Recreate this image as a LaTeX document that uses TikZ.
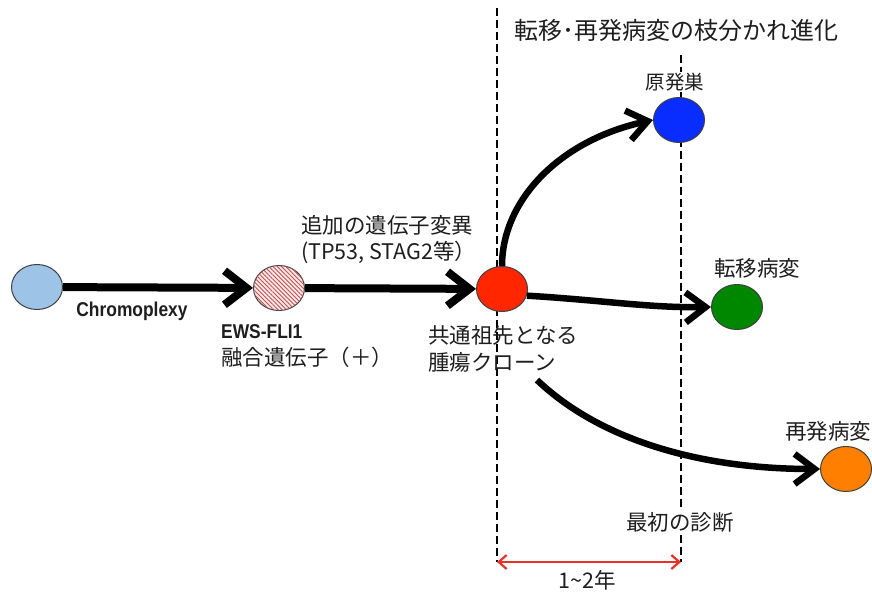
\documentclass[tikz,border=0pt]{standalone}
\usepackage{fontspec}
\setmainfont{Noto Sans CJK JP}
\newfontfamily\condfont[FakeStretch=0.87]{Liberation Sans}
\usetikzlibrary{shapes.geometric,arrows.meta,patterns.meta}
\definecolor{lblue}{RGB}{157,195,230}
\definecolor{pinkbg}{RGB}{252,232,232}
\definecolor{hatchred}{RGB}{190,80,80}
\definecolor{tumred}{RGB}{255,38,0}
\definecolor{primblue}{RGB}{10,45,255}
\definecolor{metgreen}{RGB}{0,135,0}
\definecolor{recorange}{RGB}{255,128,0}
\definecolor{spanred}{RGB}{230,50,40}
\definecolor{txt}{RGB}{30,30,30}
\begin{document}
\begin{tikzpicture}[x=1pt,y=-1pt,
  blob/.style={ellipse,draw=black!75,line width=1pt,minimum width=51pt,minimum height=45pt,inner sep=0pt},
  lab/.style={font=\fontsize{21.5}{27}\selectfont,text=txt,inner sep=1pt},
  smalllab/.style={font=\fontsize{19.5}{24}\selectfont,text=txt,inner sep=1pt},
  titlelab/.style={font=\fontsize{24}{28}\selectfont,text=txt,inner sep=2pt},
  boldlab/.style={font=\condfont\bfseries\fontsize{20}{24}\selectfont,text=txt,inner sep=1pt},
  vline/.style={line width=2.8pt,dash pattern=on 8pt off 4pt},
  bigarrow/.style={line width=8pt,-{Straight Barb[length=22pt,width=34pt]}},
  curvarrow/.style={line width=6.5pt,-{Straight Barb[length=20pt,width=30pt]}},
  spanarrow/.style={line width=2.2pt,draw=spanred,{Straight Barb[length=8pt,width=14pt]}-{Straight Barb[length=8pt,width=14pt]}}
]
\useasboundingbox (0,0) rectangle (872,596);
\fill[white] (0,0) rectangle (872,596);

% dashed time lines
\coordinate (d1t) at (497,8);
\coordinate (d1b) at (497,562);
\coordinate (d2t) at (681,55);
\coordinate (d2b) at (681,562);
\draw[vline] (d1t) -- (d1b);
\draw[vline] (d2t) -- (d2b);

% nodes
\node[blob,fill=lblue] (origin) at (37,287) {};
\node[blob,fill=pinkbg,postaction={pattern={Lines[angle=-45,distance=3pt,line width=0.9pt]},pattern color=hatchred}] (fusion) at (279,288) {};
\node[blob,fill=tumred] (clone) at (502,289) {};
\node[blob,fill=primblue] (prim) at (679,120) {};
\node[blob,fill=metgreen] (met) at (737,307) {};
\node[blob,fill=recorange] (rec) at (846,469) {};

% labels
\node[titlelab,fill=white] (title) at (676,30) {転移･再発病変の枝分かれ進化};
\node[smalllab,fill=white] (primlab) at (675,82) {原発巣};
\node[lab,anchor=west] (metlab) at (713,268) {転移病変};
\node[lab] (reclab) at (828,431) {再発病変};
\node[lab,fill=white,inner sep=3pt] (diaglab) at (680,522) {最初の診断};
\node[lab] (spanlab) at (587,580) {1\textasciitilde2年};
\node[boldlab] (chromo) at (132,311) {Chromoplexy};
\node[boldlab,anchor=west] (ews) at (220,332) {EWS-FLI1};
\node[lab,anchor=west] (fuslab) at (220,357) {融合遺伝子（＋）};
\node[lab,anchor=west] (addlab) at (300,225) {追加の遺伝子変異};
\node[lab,anchor=west] (genelab) at (300,252) {(TP53, STAG2等）};
\node[lab,anchor=west] (clonelab1) at (427,335) {共通祖先となる};
\node[lab,anchor=west] (clonelab2) at (427,362) {腫瘍クローン};

% arrows
\draw[bigarrow] (origin) -- (fusion);
\draw[bigarrow] (fusion) -- (clone);
\draw[curvarrow] (clone.north) .. controls (502,200) and (560,140) .. (prim.west);
\draw[curvarrow] (clone.-15) .. controls (600,300) and (650,308) .. (met.west);
\coordinate (relstart) at (537,380);
\draw[curvarrow] (relstart) .. controls (600,440) and (700,469) .. (rec.west);
\draw[spanarrow] (d1b) -- (d2b);
\end{tikzpicture}
\end{document}
